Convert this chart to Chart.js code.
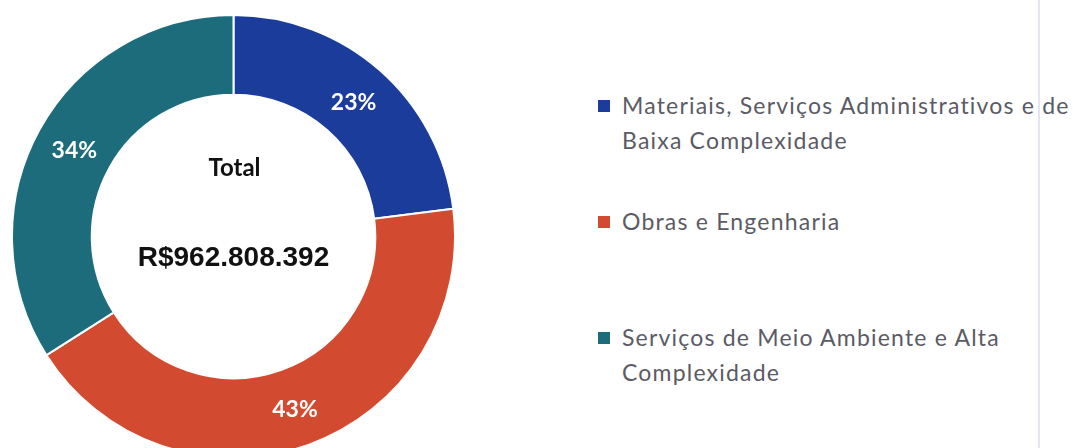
<!DOCTYPE html>
<html>
<head>
<meta charset="utf-8">
<script src="https://cdn.jsdelivr.net/npm/chart.js@4/dist/chart.umd.min.js"></script>
<style>
    html, body { margin: 0; padding: 0; background: #fff; overflow: hidden; width: 1077px; height: 448px; }
    #caixaGrafico { position: absolute; left: 11px; top: 14px; width: 445px; height: 445px; }
    #legenda { position: absolute; left: 598px; top: 0; width: 480px; font-family: Lato, "Open Sans", sans-serif; font-size: 23px; color: #5b5b66; letter-spacing: 1.2px; }
    .item { position: absolute; left: 0; width: 480px; line-height: 35px; white-space: nowrap; }
    .marca { position: absolute; left: 0; top: 12px; width: 12px; height: 12px; }
    .texto { margin-left: 24px; }
    #divisoria { position: absolute; left: 1038px; top: 0; width: 2px; height: 448px; background: #e4e4f4; }
</style>
</head>
<body>
<div id="caixaGrafico"><canvas id="graficoTotal"></canvas></div>
<div id="legenda"></div>
<div id="divisoria"></div>
<script>
const categorias = [
    "Materiais, Serviços Administrativos e de Baixa Complexidade",
    "Obras e Engenharia",
    "Serviços de Meio Ambiente e Alta Complexidade"
];
const percentuais = [23, 43, 34];
const cores = ["#1c3c9c", "#d24b31", "#1d6c7c"];
const textoTotal = "Total";
const valorTotal = "R$962.808.392";
// quebras de linha da legenda e posição vertical de cada item
const linhasLegenda = [
    ["Materiais, Serviços Administrativos e de", "Baixa Complexidade"],
    ["Obras e Engenharia"],
    ["Serviços de Meio Ambiente e Alta", "Complexidade"]
];
const topoLegenda = [88, 204, 320];

function renderizarLegenda() {
    const painel = document.getElementById("legenda");
    painel.innerHTML = categorias.map((cat, i) => `
        <div class="item" style="top:${topoLegenda[i]}px" title="${cat}">
            <span class="marca" style="background:${cores[i]}"></span>
            <div class="texto">${linhasLegenda[i].join("<br>")}</div>
        </div>
    `).join("");
}

const rotulosPercentuais = {
    id: "rotulosPercentuais",
    afterDatasetsDraw(chart) {
        const ctx = chart.ctx;
        const arcos = chart.getDatasetMeta(0).data;
        ctx.save();
        ctx.fillStyle = "#ffffff";
        ctx.font = "bold 23px Lato, sans-serif";
        ctx.textAlign = "center";
        ctx.textBaseline = "middle";
        arcos.forEach((arco, i) => {
            const pos = arco.tooltipPosition();
            ctx.fillText(percentuais[i] + "%", pos.x, pos.y + 2);
        });
        ctx.restore();
    }
};

const textoCentral = {
    id: "textoCentral",
    afterDraw(chart) {
        const ctx = chart.ctx;
        const arco = chart.getDatasetMeta(0).data[0];
        if (!arco) return;
        ctx.save();
        ctx.fillStyle = "#111111";
        ctx.textAlign = "center";
        ctx.textBaseline = "middle";
        ctx.font = "bold 24px Lato, sans-serif";
        ctx.fillText(textoTotal, arco.x + 1, arco.y - 68);
        ctx.font = "bold 28px 'Liberation Sans', Arial, sans-serif";
        ctx.fillText(valorTotal, arco.x, arco.y + 22);
        ctx.restore();
    }
};

function criarGrafico() {
    return new Chart(document.getElementById("graficoTotal"), {
        type: "doughnut",
        data: {
            labels: categorias,
            datasets: [{
                data: percentuais,
                backgroundColor: cores,
                borderColor: "#ffffff",
                borderWidth: 2
            }]
        },
        options: {
            responsive: true,
            maintainAspectRatio: false,
            animation: false,
            cutout: "64%",
            layout: { padding: 0 },
            plugins: {
                legend: { display: false },
                tooltip: { enabled: false }
            }
        },
        plugins: [rotulosPercentuais, textoCentral]
    });
}

renderizarLegenda();
let graficoTotal = null;
Promise.all([
    document.fonts.load("bold 23px Lato"),
    document.fonts.load("bold 28px 'Liberation Sans'")
]).catch(() => null).then(() => {
    graficoTotal = criarGrafico();
});
</script>
</body>
</html>
